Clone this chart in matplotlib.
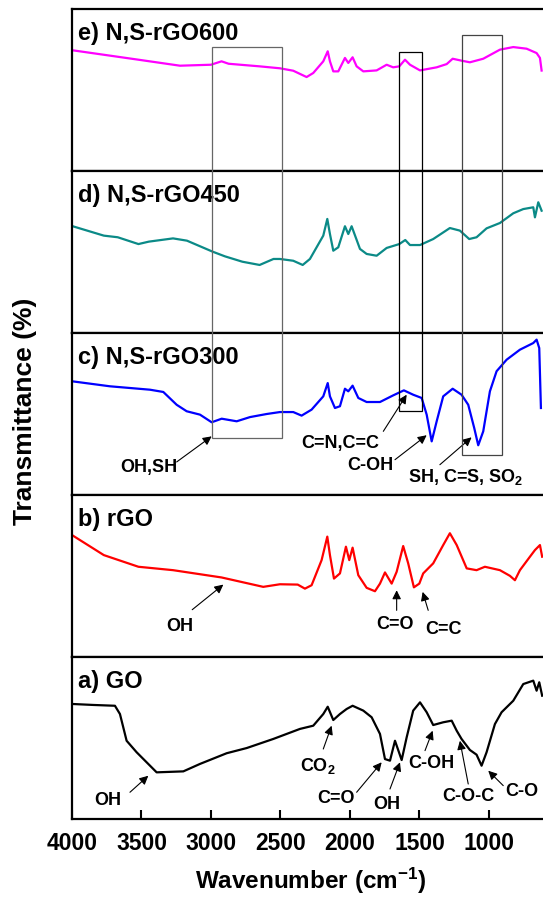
import matplotlib
matplotlib.use("Agg")
import matplotlib.pyplot as plt
from matplotlib.patches import Rectangle

plt.rcParams['font.family'] = ['Liberation Sans', 'DejaVu Sans']
plt.rcParams['font.weight'] = 'bold'
plt.rcParams['mathtext.fontset'] = 'custom'
plt.rcParams['mathtext.rm'] = 'Liberation Sans:bold'
plt.rcParams['mathtext.it'] = 'Liberation Sans:bold'
plt.rcParams['mathtext.bf'] = 'Liberation Sans:bold'

# FTIR spectra, wavenumber (cm-1) vs transmittance (a.u., 0-100 per panel)
ns600_wn = [3995, 3522, 3223, 3000, 2924, 2873, 2650, 2504, 2408, 2312, 2264, 2192, 2160, 2144,
            2120, 2084, 2036, 2012, 1981, 1952, 1904, 1808, 1736, 1689, 1645, 1604, 1568, 1496,
            1376, 1304, 1261, 1197, 1137, 1041, 921, 825, 729, 657, 633, 621]
ns600_t = [74.5, 68.7, 65.0, 65.6, 67.7, 66.2, 64.6, 63.4, 61.9, 58.0, 60.5, 67.7, 73.9, 67.7,
           61.5, 61.5, 69.8, 66.7, 70.2, 64.6, 61.5, 62.1, 65.6, 64.0, 64.6, 68.7, 65.6, 62.1,
           64.0, 66.0, 69.3, 68.1, 67.1, 69.3, 74.9, 76.5, 75.5, 72.8, 69.8, 62.0]

ns450_wn = [3995, 3771, 3671, 3522, 3447, 3273, 3173, 2988, 2899, 2774, 2650, 2550, 2504, 2408,
            2340, 2288, 2192, 2163, 2144, 2120, 2084, 2036, 2012, 1988, 1928, 1880, 1808, 1736,
            1645, 1602, 1568, 1496, 1401, 1281, 1209, 1142, 1089, 1017, 921, 825, 753, 681,
            669, 645, 621]
ns450_t = [65.9, 60.1, 59.1, 54.9, 56.4, 58.4, 57.0, 50.2, 47.3, 44.0, 42.0, 45.7, 45.7, 44.6,
           42.0, 45.7, 60.1, 70.4, 61.1, 50.8, 52.9, 65.9, 61.1, 65.9, 51.9, 48.8, 47.7, 52.5,
           54.9, 57.4, 54.3, 54.3, 58.0, 64.8, 63.2, 58.0, 59.1, 64.6, 67.9, 73.9, 76.5, 77.6,
           71.4, 80.7, 75.5]

ns300_wn = [4000, 3727, 3439, 3343, 3247, 3175, 3079, 2995, 2923, 2815, 2719, 2599, 2504, 2408,
            2348, 2276, 2192, 2160, 2144, 2108, 2072, 2036, 2012, 1981, 1940, 1880, 1784, 1689,
            1612, 1545, 1484, 1448, 1412, 1376, 1329, 1261, 1197, 1149, 1106, 1077, 1041, 993,
            945, 873, 777, 681, 657, 638, 626]
ns300_t = [70.2, 67.1, 65.0, 63.6, 55.7, 51.7, 49.6, 44.9, 47.1, 45.5, 48.1, 50.0, 51.2, 51.2,
           49.0, 52.7, 60.9, 69.1, 60.9, 53.7, 54.8, 65.6, 64.0, 67.5, 59.9, 57.4, 57.4, 61.5,
           64.6, 61.9, 59.9, 49.6, 33.1, 45.5, 60.9, 65.6, 61.9, 55.7, 41.4, 30.7, 39.3, 64.0,
           76.4, 83.5, 89.7, 93.8, 95.9, 90.7, 53.7]

rgo_wn = [3995, 3771, 3522, 3273, 2924, 2624, 2504, 2376, 2324, 2276, 2204, 2163, 2144, 2115,
          2072, 2029, 2005, 1981, 1940, 1880, 1820, 1784, 1748, 1700, 1664, 1617, 1581, 1540,
          1501, 1473, 1401, 1329, 1281, 1232, 1160, 1089, 1029, 921, 849, 813, 777, 705, 669,
          633, 617]
rgo_t = [75.0, 62.9, 55.7, 53.6, 49.1, 43.3, 44.9, 44.7, 42.2, 44.3, 59.8, 74.3, 62.9, 48.4,
         51.6, 68.1, 59.8, 67.5, 50.5, 42.7, 40.6, 45.3, 52.2, 45.3, 52.6, 68.5, 57.8, 43.0,
         45.3, 51.6, 57.8, 69.1, 76.4, 69.1, 54.7, 53.6, 55.7, 53.6, 50.1, 47.4, 53.6, 61.9,
         66.0, 69.1, 61.9]

go_wn = [3998, 3847, 3691, 3655, 3607, 3535, 3391, 3199, 3079, 2887, 2743, 2552, 2360, 2264,
         2192, 2160, 2120, 2072, 2024, 1981, 1904, 1844, 1784, 1748, 1712, 1676, 1628, 1592,
         1545, 1496, 1448, 1401, 1329, 1268, 1232, 1197, 1137, 1089, 1053, 1017, 957, 909,
         825, 753, 681, 657, 638, 617]
go_t = [71.0, 70.4, 69.9, 64.8, 48.3, 41.2, 28.8, 29.4, 34.0, 40.6, 43.8, 49.4, 55.6, 57.6,
        64.8, 69.3, 61.1, 64.8, 67.9, 69.9, 66.9, 62.8, 52.5, 37.0, 36.0, 48.3, 36.4, 50.4,
        66.9, 72.0, 65.9, 58.0, 59.7, 60.7, 54.5, 49.4, 42.6, 39.7, 32.9, 41.2, 58.6, 65.9,
        73.0, 83.3, 85.4, 79.2, 84.4, 76.1]

panel_labels = ["e) N,S-rGO600", "d) N,S-rGO450", "c) N,S-rGO300", "b) rGO", "a) GO"]
x_ticks = [4000, 3500, 3000, 2500, 2000, 1500, 1000]

# highlighted band regions (cm-1)
bands = [(2990, 2490), (1645, 1485), (1197, 904)]

W, H = 543, 903
fig = plt.figure(figsize=(W / 100, H / 100), dpi=100)

left = 72 / W
panel_h = 162 / H
bottom0 = 1 - 820 / H

series = [
    (ns600_wn, ns600_t, "#ff00ff"),
    (ns450_wn, ns450_t, "#0b8a87"),
    (ns300_wn, ns300_t, "#0000ff"),
    (rgo_wn, rgo_t, "#ff0000"),
    (go_wn, go_t, "#000000"),
]

axes = []
n = len(series)
for i, (wn, t, color) in enumerate(series):
    bottom = bottom0 + (n - 1 - i) * panel_h
    ax = fig.add_axes([left, bottom, 1 - left, panel_h])
    ax.plot(wn, t, color=color, lw=1.6)
    ax.set_xlim(4000, 611)
    ax.set_ylim(0, 100)
    for side in ["top", "bottom", "left"]:
        ax.spines[side].set_linewidth(1.6)
    ax.spines["right"].set_visible(False)
    ax.tick_params(left=False, labelleft=False, bottom=False, labelbottom=False)
    ax.text(0.012, 0.855, panel_labels[i], transform=ax.transAxes,
            fontsize=17, fontweight="bold", va="center", ha="left")
    axes.append(ax)

ax_e, ax_d, ax_c, ax_b, ax_a = axes

ax_a.set_xticks(x_ticks)
ax_a.tick_params(axis="x", bottom=True, labelbottom=True, direction="in",
                 length=6.5, width=1.5, pad=8.5, labelsize=16.5)

# band boxes spanning panels e to c
box_extents = [(76.4, 35.2, "#666666"), (73.3, 51.7, "#000000"), (83.8, 24.5, "#444444")]
inv = fig.transFigure.inverted()
for (hi, lo), (top, bot, col) in zip(bands, box_extents):
    x0, y1 = inv.transform(ax_e.transData.transform((hi, top)))
    x1, y0 = inv.transform(ax_c.transData.transform((lo, bot)))
    rect = Rectangle((x0, y0), x1 - x0, y1 - y0, transform=fig.transFigure,
                     fill=False, edgecolor=col, lw=0.9, zorder=5)
    fig.add_artist(rect)

arrow_kw = dict(arrowstyle="-|>", color="black", lw=0.8, shrinkA=0, shrinkB=0,
                mutation_scale=13)

def note(ax, text, tx, ty, tail, tip):
    ax.text(tx, ty, text, fontsize=13, fontweight="bold", ha="center", va="center")
    ax.annotate("", xy=tip, xytext=tail, arrowprops=arrow_kw)

# c) N,S-rGO300
note(ax_c, "OH,SH", 3446, 17.7, (3247, 20.4), (2995, 36.2))
note(ax_c, "C=N,C=C", 2072, 32.1, (1760, 39.3), (1592, 61.9))
note(ax_c, "C-OH", 1856, 18.7, (1676, 21.8), (1448, 36.9))
note(ax_c, "SH, C=S, SO$_2$", 1166, 11.5, (1353, 18.7), (1125, 35.6))

# b) rGO
note(ax_b, "OH", 3223, 19.4, (3135, 29.2), (2911, 44.7))
note(ax_b, "C=O", 1676, 20.5, (1664, 28.8), (1664, 41.2))
note(ax_b, "C=C", 1329, 17.4, (1437, 28.8), (1477, 40.2))

# a) GO
note(ax_a, "OH", 3741, 12.3, (3583, 16.5), (3451, 26.7))
note(ax_a, "CO$_2$", 2230, 33.5, (2192, 43.2), (2132, 57.6))
note(ax_a, "C=O", 2103, 13.4, (1952, 16.5), (1772, 35.0))
note(ax_a, "OH", 1734, 9.3, (1712, 18.5), (1640, 35.0))
note(ax_a, "C-OH", 1417, 35.0, (1460, 42.2), (1405, 54.5))
note(ax_a, "C-O-C", 1151, 14.4, (1149, 21.6), (1209, 48.3))
note(ax_a, "C-O", 763, 17.5, (897, 20.6), (1005, 29.8))

fig.text(25 / W, 1 - 411 / H, "Transmittance (%)", rotation=90, fontsize=19,
         fontweight="bold", ha="center", va="center")
fig.text(311 / W, 1 - 881 / H, "Wavenumber (cm$^{-1}$)", fontsize=17.5,
         fontweight="bold", ha="center", va="center")

fig.savefig("out.png", dpi=100)
